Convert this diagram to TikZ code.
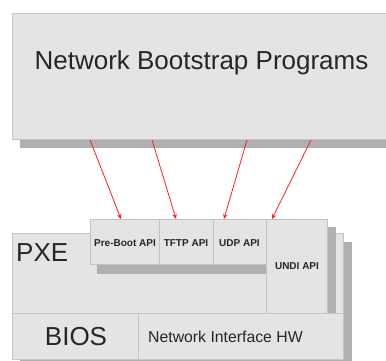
\documentclass[tikz,border=0pt]{standalone}
\usepackage{fontspec}
\setmainfont{Liberation Sans}
\usetikzlibrary{arrows.meta}
\definecolor{boxfill}{HTML}{E4E4E4}
\definecolor{boxline}{HTML}{C4C4C4}
\definecolor{shade}{HTML}{B0B0B0}
\definecolor{ink}{HTML}{262626}
\definecolor{arrowred}{HTML}{FF1E1E}
\begin{document}
\begin{tikzpicture}[x=1pt,y=-1pt,
  box/.style={draw=boxline, fill=boxfill, line width=0.9pt, inner sep=0pt, anchor=north west},
  shadowbox/.style={fill=shade, draw=none, inner sep=0pt, anchor=north west},
  bigtext/.style={text=ink, font=\fontsize{26}{26}\selectfont, inner sep=0pt},
  midtext/.style={text=ink, font=\fontsize{15.8}{16}\selectfont, inner sep=0pt, anchor=base west},
  apitext/.style={text=ink, font=\bfseries\fontsize{10}{10}\selectfont, inner sep=0pt, anchor=base},
  callarrow/.style={draw=arrowred, line width=0.8pt, -{Stealth[length=5pt,width=4.5pt]}}]
\clip (0,0) rectangle (386,361);
% top box
\node[shadowbox, minimum width=390pt, minimum height=9pt] (nbpshadow) at (20,139) {};
\node[box, minimum width=395pt, minimum height=126pt] (nbp) at (12,13) {};
\node[bigtext, anchor=base] (nbptext) at (201.5,70) {Network Bootstrap Programs};
% lower stack
\node[shadowbox, minimum width=332pt, minimum height=126pt] (stackshadow) at (20,242) {};
\node[box, minimum width=331pt, minimum height=80pt] (pxe) at (12,233) {};
\node[bigtext, anchor=base west] (pxetext) at (16,261) {PXE};
\node[box, minimum width=126pt, minimum height=46pt] (bios) at (12,313) {};
\node[bigtext, anchor=base] (biostext) at (76,345) {BIOS};
\node[box, minimum width=205pt, minimum height=46pt] (nic) at (138,313) {};
\node[midtext] (nictext) at (148,342) {Network Interface HW};
\node[shadowbox, minimum width=9pt, minimum height=86pt] (undishadow) at (327,227) {};
\node[shadowbox, minimum width=169pt, minimum height=10pt] (apishadow) at (97,264) {};
\node[box, minimum width=61pt, minimum height=94pt] (undi) at (266,219) {};
\node[apitext] (unditext) at (297,269) {UNDI API};
\node[box, minimum width=69pt, minimum height=45pt] (preboot) at (90,219) {};
\node[apitext] (preboottext) at (125,246) {Pre-Boot API};
\node[box, minimum width=54pt, minimum height=45pt] (tftp) at (159,219) {};
\node[apitext] (tftptext) at (186,246) {TFTP API};
\node[box, minimum width=53pt, minimum height=45pt] (udp) at (213,219) {};
\node[apitext] (udptext) at (239.5,246) {UDP API};
% arrows
\draw[callarrow] ([xshift=78pt]nbp.south west) -- ([xshift=31pt]preboot.north west);
\draw[callarrow] ([xshift=140pt]nbp.south west) -- ([xshift=17pt]tftp.north west);
\draw[callarrow] ([xshift=235pt]nbp.south west) -- ([xshift=11pt]udp.north west);
\draw[callarrow] ([xshift=299pt]nbp.south west) -- ([xshift=6pt]undi.north west);
\end{tikzpicture}
\end{document}
